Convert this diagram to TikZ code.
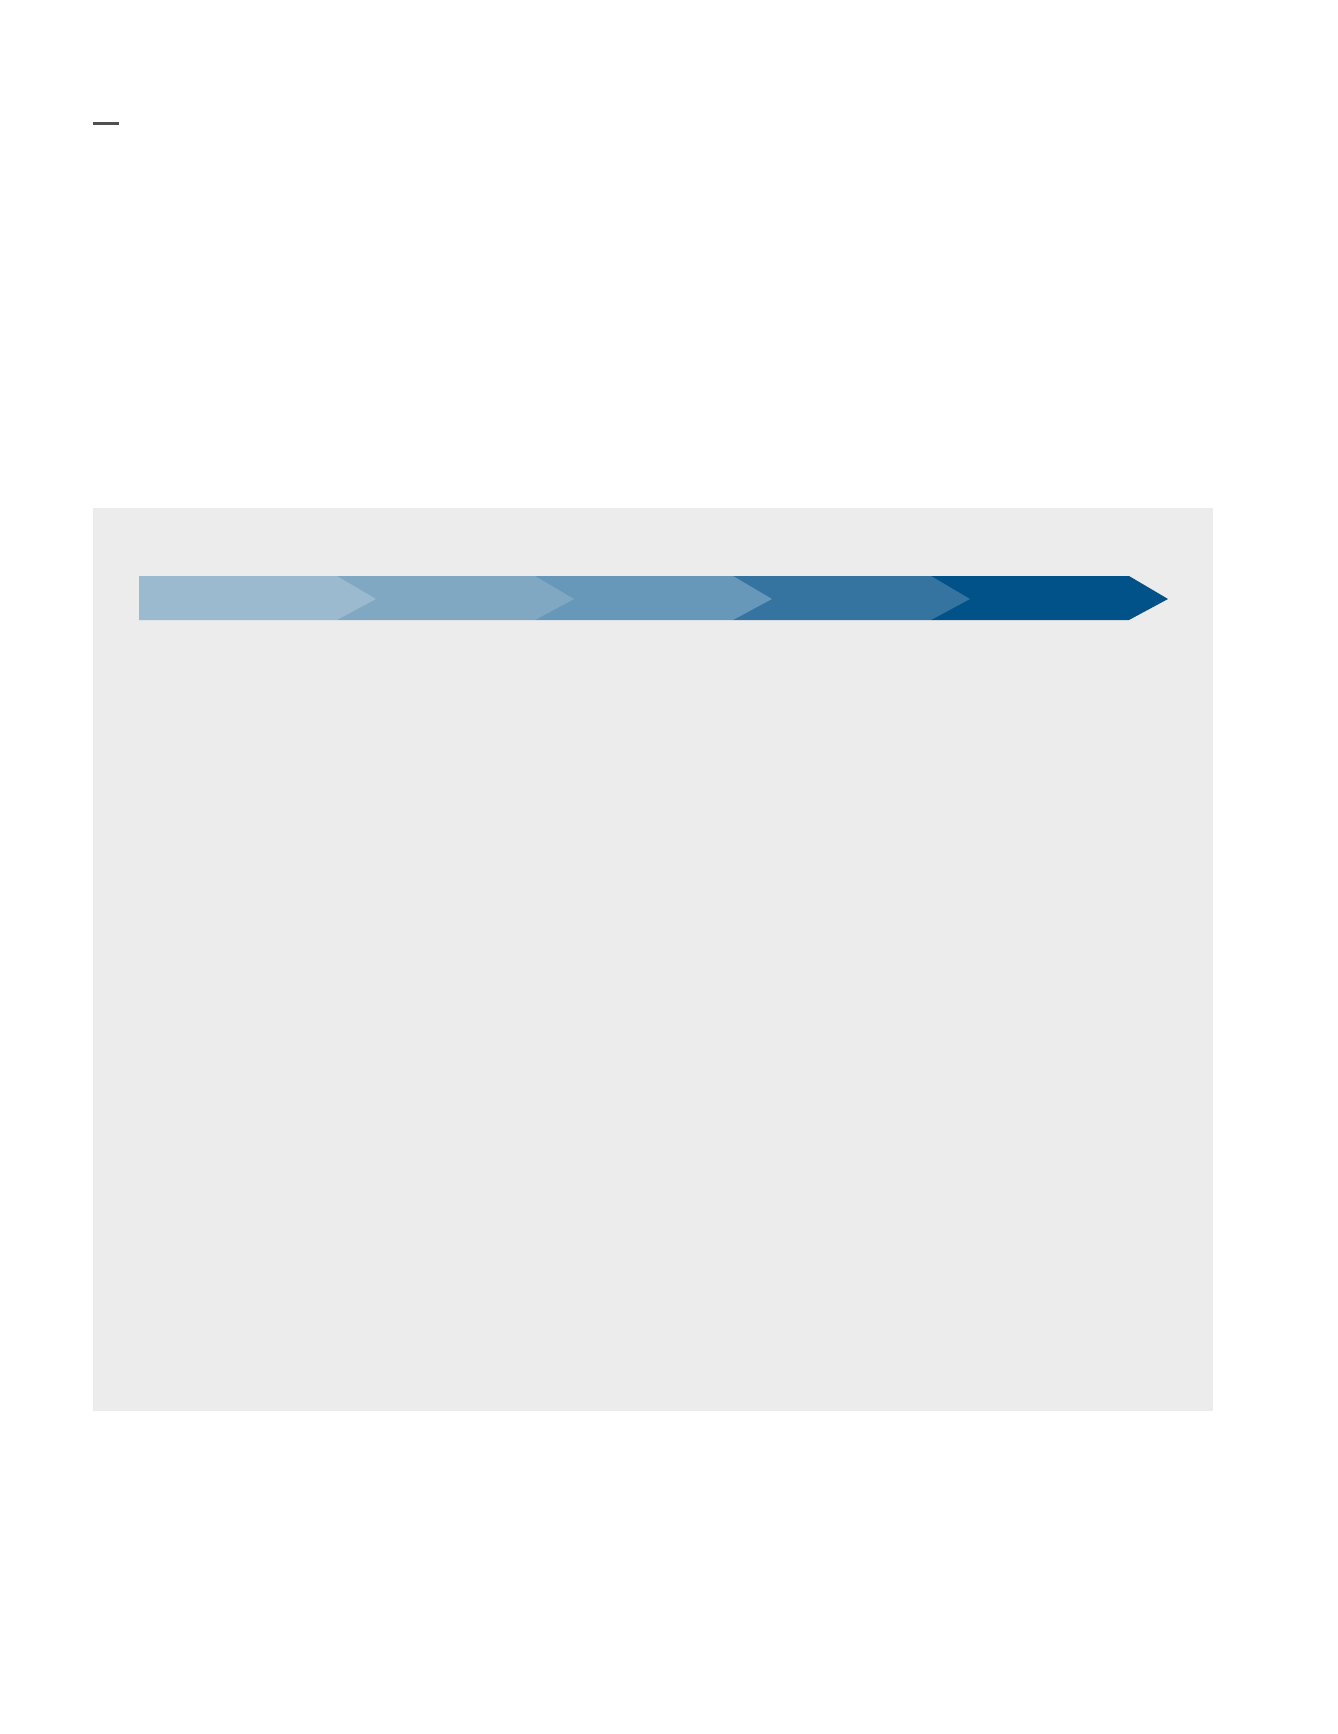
\documentclass[tikz,border=0pt]{standalone}
\usepackage{tikz}
\usetikzlibrary{positioning,calc}
\definecolor{rulegrey}{HTML}{505050}
\definecolor{panelgrey}{HTML}{ECECEC}
\definecolor{stageA}{HTML}{9BB9CF}
\definecolor{stageB}{HTML}{80A8C3}
\definecolor{stageC}{HTML}{6798BA}
\definecolor{stageD}{HTML}{3574A0}
\definecolor{stageE}{HTML}{005288}
\begin{document}
\begin{tikzpicture}[x=0.1mm,y=-0.1mm]
    \useasboundingbox (0,0) rectangle (1337,1734);
    % short rule at the top
    \coordinate (ruleL) at (93,123.5);
    \coordinate (ruleR) at (119,123.5);
    \draw[rulegrey,line width=0.21mm] (ruleL) -- (ruleR);
    % grey panel
    \fill[panelgrey] (93,508) rectangle (1213,1411);
    % chevron band, last stage first so each tip lies on the next one
    \foreach \i/\col in {4/stageE,3/stageD,2/stageC,1/stageB,0/stageA} {
        \fill[\col] ({139+198*\i},576) -- ({337+198*\i},576) -- ({376+198*\i},599)
            -- ({337+198*\i},620) -- ({139+198*\i},620) -- cycle;
    }
\end{tikzpicture}
\end{document}
